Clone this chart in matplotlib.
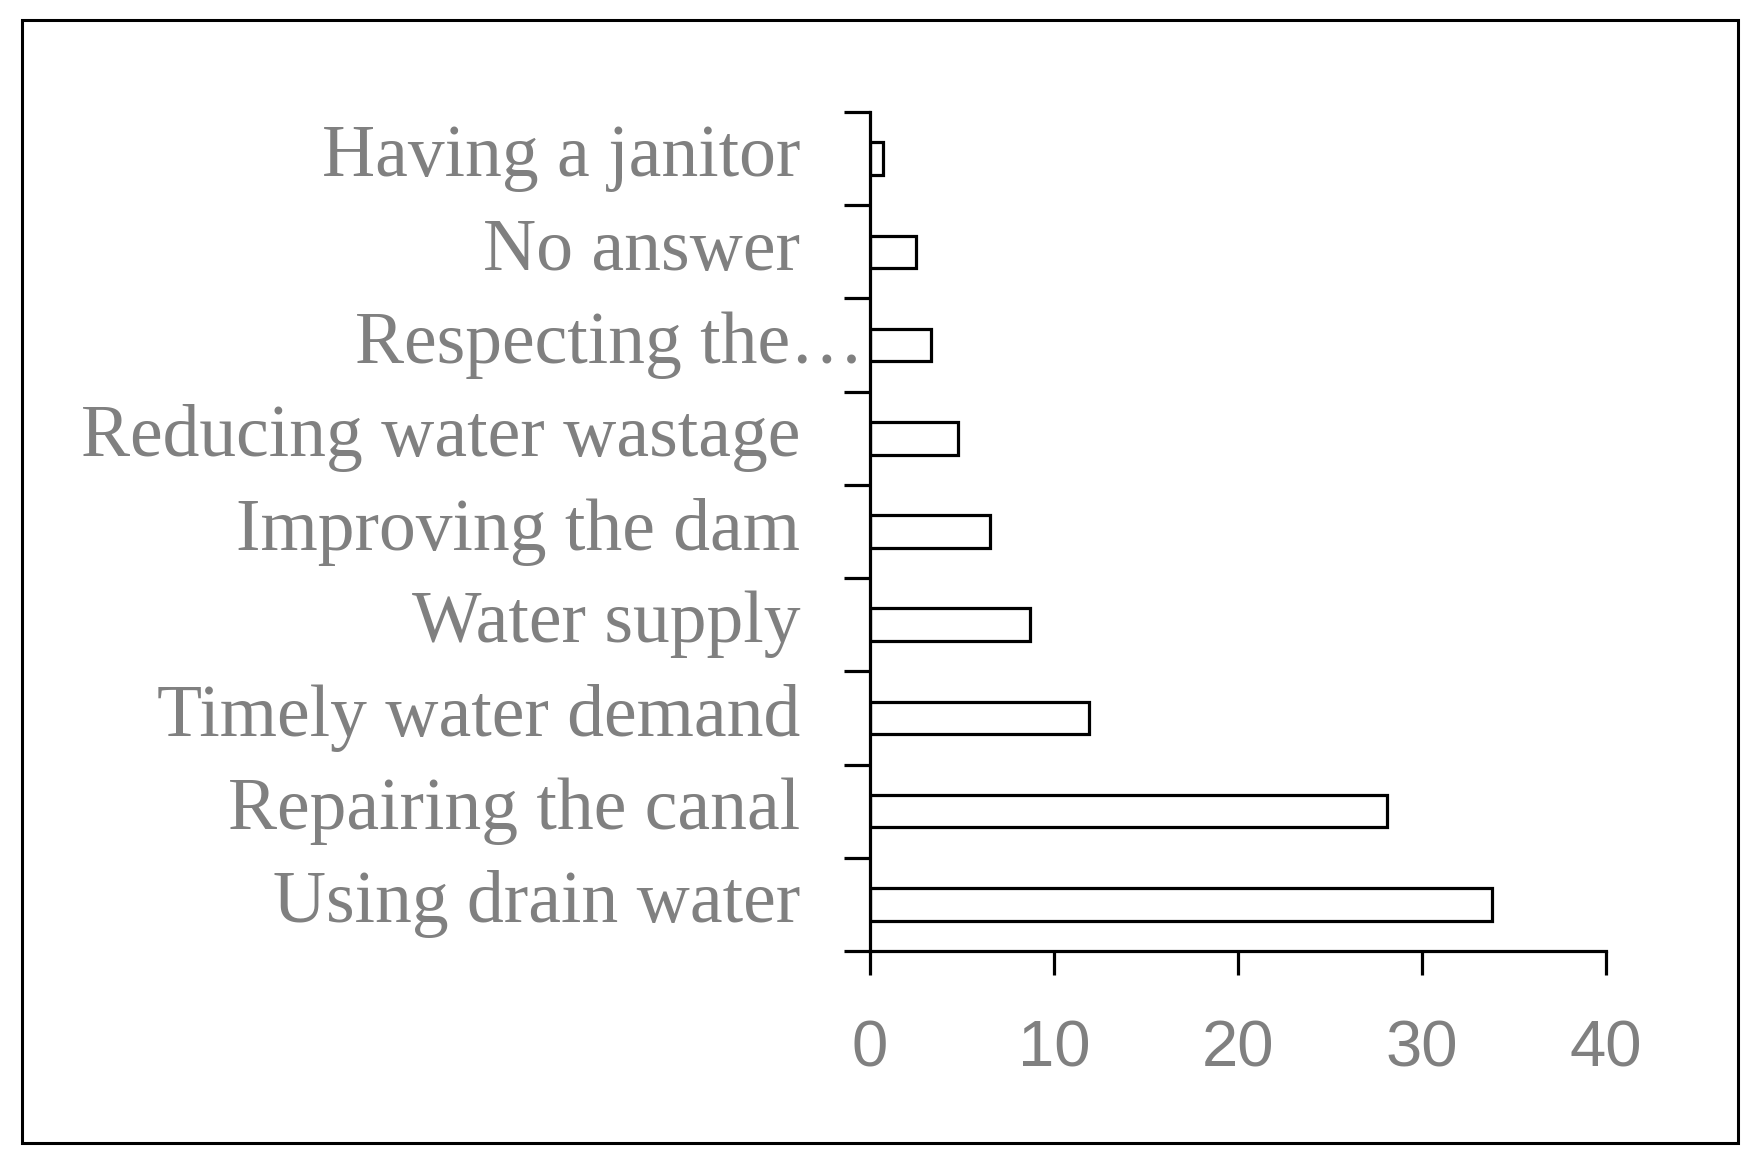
import matplotlib
matplotlib.use("Agg")
import matplotlib.pyplot as plt
import matplotlib.transforms as mtransforms
from matplotlib.patches import Rectangle

categories = ["Using drain water", "Repairing the canal", "Timely water demand",
              "Water supply", "Improving the dam", "Reducing water wastage",
              "Respecting the\u2026", "No answer", "Having a janitor"]
values = [33.8, 28.1, 11.9, 8.7, 6.5, 4.8, 3.3, 2.5, 0.7]
xticks = [0, 10, 20, 30, 40]

GREY = "#808080"
fig = plt.figure(figsize=(17.6, 11.65), dpi=100)
fig.patch.set_facecolor("white")

# outer frame
fig.patches.append(Rectangle((22/1760, 1-1143/1165), (1738-22)/1760, (1143-20)/1165,
                             transform=fig.transFigure, fill=False, edgecolor="black",
                             linewidth=2.2))

ax = fig.add_axes([870/1760, 1-951/1165, (1606-870)/1760, (951-112)/1165])
pos = list(range(len(categories)))
ax.barh(pos, values, height=0.35, color="white", edgecolor="black", linewidth=2.3)

ax.set_xlim(0, 40)
ax.set_ylim(-0.5, len(categories) - 0.5)
for s in ["top", "right"]:
    ax.spines[s].set_visible(False)
for s in ["left", "bottom"]:
    ax.spines[s].set_linewidth(2.3)
    ax.spines[s].set_color("black")

ax.set_xticks(xticks)
ax.set_xticklabels([str(t) for t in xticks], fontsize=47, color=GREY, family="Liberation Sans")
ax.tick_params(axis="x", direction="out", length=17, width=2.3, pad=32)

ax.set_yticks([p - 0.5 for p in pos] + [len(categories) - 0.5])
ax.set_yticklabels([])
ax.tick_params(axis="y", direction="out", length=19, width=2.3)

trans = mtransforms.blended_transform_factory(ax.transAxes, ax.transData)
for p, lab in zip(pos, categories):
    xr = -0.095 if not lab.endswith("\u2026") else -0.008
    ax.text(xr, p, lab, transform=trans, ha="right", va="center",
            fontsize=53, color=GREY, family="Liberation Serif")

fig.savefig("out.png", dpi=100, facecolor="white")
